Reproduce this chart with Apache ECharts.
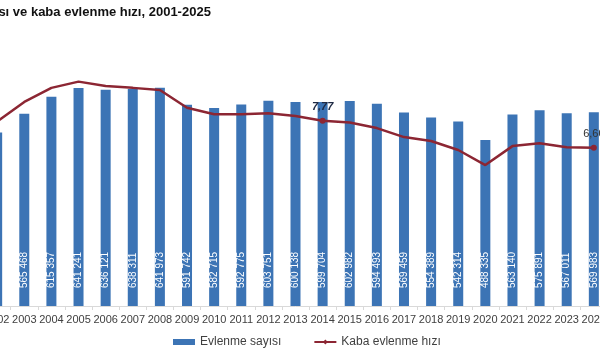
<!DOCTYPE html>
<html><head><meta charset="utf-8">
<script src="https://cdn.jsdelivr.net/npm/echarts@6/dist/echarts.min.js"></script>
<style>html,body{margin:0;padding:0;background:#fff;width:600px;height:360px;overflow:hidden;position:relative}#c{position:absolute;left:-18px;top:0;width:627px;height:360px}</style>
</head><body><div id="c"></div>
<script>
const titleText = 'Evlenme sayısı ve kaba evlenme hızı, 2001-2025';
const years = ['2002','2003','2004','2005','2006','2007','2008','2009','2010','2011','2012','2013','2014','2015','2016','2017','2018','2019','2020','2021','2022','2023','2024'];
const marriages = [510155, 565468, 615357, 641241, 636121, 638311, 641973, 591742, 582715, 592775, 603751, 600138, 599704, 602982, 594493, 569459, 554389, 542314, 488335, 563140, 575891, 567011, 569983];
const rates = [7.73, 8.58, 9.19, 9.46, 9.27, 9.19, 9.10, 8.33, 8.05, 8.05, 8.09, 7.97, 7.77, 7.69, 7.45, 7.06, 6.89, 6.50, 5.85, 6.67, 6.79, 6.62, 6.60];
const labeledYears = ['2014', '2024'];
const barName = 'Evlenme sayısı';
const lineName = 'Kaba evlenme hızı';

const fmtInt = v => String(v).replace(/\B(?=(\d{3})+(?!\d))/g, ' ');
const fmtDec = v => v.toFixed(2).replace('.', ',');

const lineData = rates.map((v, i) => {
  const lab = labeledYears.indexOf(years[i]) >= 0;
  return lab ? {
    value: v, symbol: 'circle', symbolSize: 6,
    label: { show: true, position: 'top', distance: 5, formatter: p => fmtDec(p.value),
      fontSize: 11, fontWeight: years[i] === '2014' ? 'bold' : 'normal',
      fontStyle: years[i] === '2014' ? 'italic' : 'normal',
      color: years[i] === '2014' ? '#1f2a44' : '#333' }
  } : { value: v, symbol: 'none' };
});

const chart = echarts.init(document.getElementById('c'), null, { renderer: 'canvas' });
chart.setOption({
  animation: false,
  backgroundColor: '#fff',
  title: { text: titleText, left: -66, top: 6, padding: 0,
    textStyle: { fontFamily: 'Liberation Sans, Arial', fontSize: 13, fontWeight: 'bold', color: '#111' } },
  legend: {
    left: 186, top: 331, itemWidth: 22, itemHeight: 6, itemGap: 32,
    textStyle: { fontFamily: 'Liberation Sans, Arial', fontSize: 12, color: '#404040' },
    data: [{ name: barName, icon: 'rect' }, { name: lineName }]
  },
  grid: { left: 0, right: 0, top: 68, bottom: 54, containLabel: false },
  xAxis: {
    type: 'category', data: years, boundaryGap: true,
    axisLine: { lineStyle: { color: '#d9d9d9', width: 1 } },
    axisTick: { show: true, length: 4, lineStyle: { color: '#d9d9d9' } },
    axisLabel: { interval: 0, margin: 8, fontFamily: 'Liberation Sans, Arial', fontSize: 11, color: '#404040' }
  },
  yAxis: [
    { type: 'value', min: 0, max: 700000, show: false, splitLine: { show: false } },
    { type: 'value', min: -0.25, max: 10.05, show: false, splitLine: { show: false } }
  ],
  series: [
    { name: barName, type: 'bar', data: marriages, barWidth: 10,
      itemStyle: { color: '#3c74b5' },
      label: { show: true, position: 'insideBottom', rotate: 90, align: 'left', verticalAlign: 'middle',
        distance: 18, formatter: p => fmtInt(p.value), color: '#fff', fontSize: 10,
        fontFamily: 'Liberation Sans, Arial' } },
    { name: lineName, type: 'line', yAxisIndex: 1, data: lineData, z: 5,
      symbol: 'diamond', symbolSize: 6,
      lineStyle: { color: '#8c2633', width: 2.5 },
      itemStyle: { color: '#8c2633' } }
  ]
});
</script></body></html>
